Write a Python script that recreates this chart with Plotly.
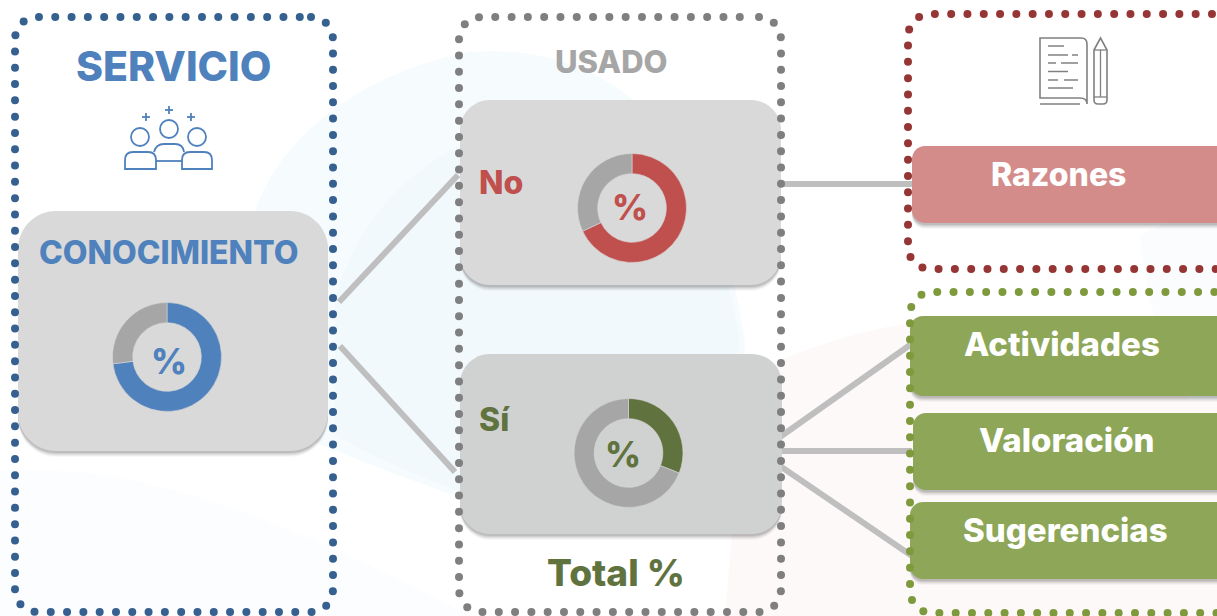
import numpy as np
import plotly.graph_objects as go

W, H = 1217, 616
FONT = "Inter"
BLUE, RED, GREEN, GREY = "#4f81bd", "#c0504d", "#60733f", "#a6a6a6"

# ---- data ----
donut_names = ["Conocimiento", "No", "Sí"]
donut_share = [73, 68, 31]
donut_rest = [27, 32, 69]
donut_colors = [BLUE, RED, GREEN]
donut_centers = [(167, 357), (632, 208), (628.5, 453)]
donut_radius = 54.5

boxes = [  # x0, y0, x1, y1, radius, fill
    (18, 211, 328, 451, 38, "#d9d9d9"),
    (460, 100, 781, 285, 30, "#d9d9d9"),
    (460, 354, 782, 534, 30, "#d0d2d2"),
    (912, 146, 1260, 223, 13, "#d48c8a"),
    (910, 316, 1260, 396, 13, "#8da657"),
    (913, 413, 1260, 490, 13, "#8da657"),
    (910, 502, 1260, 579, 13, "#8da657"),
]
frames = [  # x0, y0, x1, y1, colour
    (15, 17, 333, 612, "#35608f"),
    (459, 17, 781, 612, "#7f7f7f"),
    (908, 14, 1300, 269, "#963634"),
    (910, 292, 1300, 613, "#7f9a3d"),
]
connectors = [
    (339, 302, 458, 175), (340, 346, 455, 472), (781, 184, 912, 184),
    (780, 437, 910, 345), (780, 451, 912, 451), (780, 466, 912, 556),
]
labels = [  # text, x, y, size, colour
    ("SERVICIO", 174, 66, 41, BLUE),
    ("USADO", 611, 61, 31, GREY),
    ("CONOCIMIENTO", 168.5, 252, 32, BLUE),
    ("%", 169, 361, 35, BLUE),
    ("No", 501, 182, 32, RED),
    ("%", 630, 207, 35, RED),
    ("Sí", 494, 419, 32, GREEN),
    ("%", 623, 454, 35, GREEN),
    ("Total %", 616, 572, 37, GREEN),
    ("Razones", 1058, 174, 32, "#ffffff"),
    ("Actividades", 1062, 344, 33, "#ffffff"),
    ("Valoración", 1067, 440, 33, "#ffffff"),
    ("Sugerencias", 1065, 530, 33, "#ffffff"),
]


def rrect(x0, y0, x1, y1, r):
    k = r * 0.45
    return (f"M{x0+r},{y0} H{x1-r} C{x1-k},{y0} {x1},{y0+k} {x1},{y0+r} "
            f"V{y1-r} C{x1},{y1-k} {x1-k},{y1} {x1-r},{y1} "
            f"H{x0+r} C{x0+k},{y1} {x0},{y1-k} {x0},{y1-r} "
            f"V{y0+r} C{x0},{y0+k} {x0+k},{y0} {x0+r},{y0} Z")


def dots(x0, y0, x1, y1, r=22, step=16.3):
    pts = []
    n = 8
    for cx, cy, a0 in [(x1 - r, y0 + r, -90), (x1 - r, y1 - r, 0),
                       (x0 + r, y1 - r, 90), (x0 + r, y0 + r, 180)]:
        for t in np.linspace(0, 90, n):
            a = np.radians(a0 + t)
            pts.append((cx + r * np.cos(a), cy + r * np.sin(a)))
    pts.append(pts[0])
    pts = np.array(pts)
    seg_len = np.hypot(*np.diff(pts, axis=0).T)
    s = np.concatenate([[0], np.cumsum(seg_len)])
    q = np.arange(0, s[-1] - step / 2, step)
    return np.interp(q, s, pts[:, 0]), np.interp(q, s, pts[:, 1])


shapes = []


def path(d, fill=None, line=None, lw=0, opacity=1):
    shapes.append(dict(type="path", path=d, xref="x", yref="y", layer="below",
                       fillcolor=fill or "rgba(0,0,0,0)", opacity=opacity,
                       line=dict(color=line or "rgba(0,0,0,0)", width=lw)))


def seg(x0, y0, x1, y1, color, lw):
    shapes.append(dict(type="line", x0=x0, y0=y0, x1=x1, y1=y1, xref="x", yref="y",
                       layer="below", line=dict(color=color, width=lw)))


def circ(cx, cy, r, fill=None, line=None, lw=0):
    shapes.append(dict(type="circle", x0=cx - r, x1=cx + r, y0=cy - r, y1=cy + r,
                       xref="x", yref="y", layer="below",
                       fillcolor=fill or "rgba(0,0,0,0)",
                       line=dict(color=line or "rgba(0,0,0,0)", width=lw)))


# faint background blobs
path("M0,470 C120,465 240,495 470,616 H0 Z", fill="#fcfdfe")
path("M252,220 C280,125 380,68 470,52 C600,42 715,120 745,345 L735,500 "
     "L560,530 C480,505 400,478 310,440 Z", fill="#f6fbfe")
path("M335,300 C360,200 450,125 560,120 C660,130 725,220 740,345 L700,500 L560,525 "
     "C480,500 400,473 335,435 Z", fill="#f1f9fd")
path("M745,375 C800,350 860,330 915,322 L1217,330 V616 H725 Z", fill="#fdf9f8")
path("M1140,235 Q1180,215 1217,208 V400 H1190 Q1150,340 1140,235 Z", fill="#fafcfe")

for c in connectors:
    seg(*c, "#bfbfbf", 6)

for x0, y0, x1, y1, r, fill in boxes:
    for off, op in [(6, 0.04), (5, 0.06), (4, 0.08), (3, 0.10), (2, 0.12)]:
        path(rrect(x0, y0 + off, x1, y1 + off, r), fill="#404040", opacity=op)
    path(rrect(x0, y0, x1, y1, r), fill=fill)

# people icon
for cx, cy in [(140, 137), (169, 129), (197, 137)]:
    circ(cx, cy, 9, line=BLUE, lw=1.8)
for cx, cy in [(146, 117), (169, 110), (191, 117)]:
    seg(cx - 4, cy, cx + 4, cy, BLUE, 1.8)
    seg(cx, cy - 4, cx, cy + 4, BLUE, 1.8)
path("M125,169 V160 Q125,152 133,152 H148 Q156,152 156,160 V169 Z", line=BLUE, lw=1.8)
path("M182,169 V160 Q182,152 190,152 H204 Q212,152 212,160 V169 Z", line=BLUE, lw=1.8)
path("M154,152 Q156,144 164,144 H175 Q183,144 184,152", line=BLUE, lw=1.8)
seg(156, 161, 182, 161, BLUE, 1.8)

# book and pencil icon
IC = "#808080"
path("M1040,38 H1081 Q1087,38 1087,44 V104 Q1087,98 1080,98 H1040 Z", line=IC, lw=1.6)
seg(1040, 104, 1080, 104, IC, 1.6)
for y, x0, x1 in [(46, 1048, 1064), (55, 1048, 1068), (55, 1072, 1078), (63, 1048, 1056),
                  (63, 1061, 1078), (71.5, 1048, 1068), (80, 1048, 1058), (80, 1064, 1078),
                  (88, 1048, 1073)]:
    seg(x0, y, x1, y, IC, 1.5)
path("M1094,50 L1100.5,38 L1107,50 V100 Q1107,104 1103,104 H1098 Q1094,104 1094,100 Z", line=IC, lw=1.6)
seg(1094, 50, 1107, 50, IC, 1.3)
seg(1094, 97, 1107, 97, IC, 1.3)
seg(1100.5, 50, 1100.5, 97, IC, 1.3)

fig = go.Figure()

for x0, y0, x1, y1, col in frames:
    xs, ys = dots(x0, y0, x1, y1)
    fig.add_trace(go.Scatter(x=xs, y=ys, mode="markers", hoverinfo="skip", showlegend=False,
                             marker=dict(size=8, color=col)))

for name, share, rest, col, (cx, cy) in zip(donut_names, donut_share, donut_rest, donut_colors, donut_centers):
    fig.add_trace(go.Pie(
        labels=[name, "Resto"], values=[share, rest], hole=0.63, sort=False,
        direction="clockwise", rotation=0, textinfo="none", showlegend=False,
        marker=dict(colors=[col, GREY], line=dict(color="#d6d6d6", width=0.6)),
        domain=dict(x=[(cx - donut_radius) / W, (cx + donut_radius) / W],
                    y=[1 - (cy + donut_radius) / H, 1 - (cy - donut_radius) / H]),
    ))

annotations = [dict(text=t, x=x, y=y, xref="x", yref="y", showarrow=False,
                    xanchor="center", yanchor="middle",
                    font=dict(family=FONT, size=s, color=c, weight=800)) for t, x, y, s, c in labels]

fig.update_layout(
    width=W, height=H, autosize=False, margin=dict(l=0, r=0, t=0, b=0),
    paper_bgcolor="#ffffff", plot_bgcolor="#ffffff", showlegend=False,
    xaxis=dict(range=[0, W], visible=False, fixedrange=True),
    yaxis=dict(range=[H, 0], visible=False, fixedrange=True),
    shapes=shapes, annotations=annotations,
)
fig.write_html("out.html", config=dict(displayModeBar=False),
               post_script="document.body.style.margin='0';document.body.style.overflow='hidden';")
